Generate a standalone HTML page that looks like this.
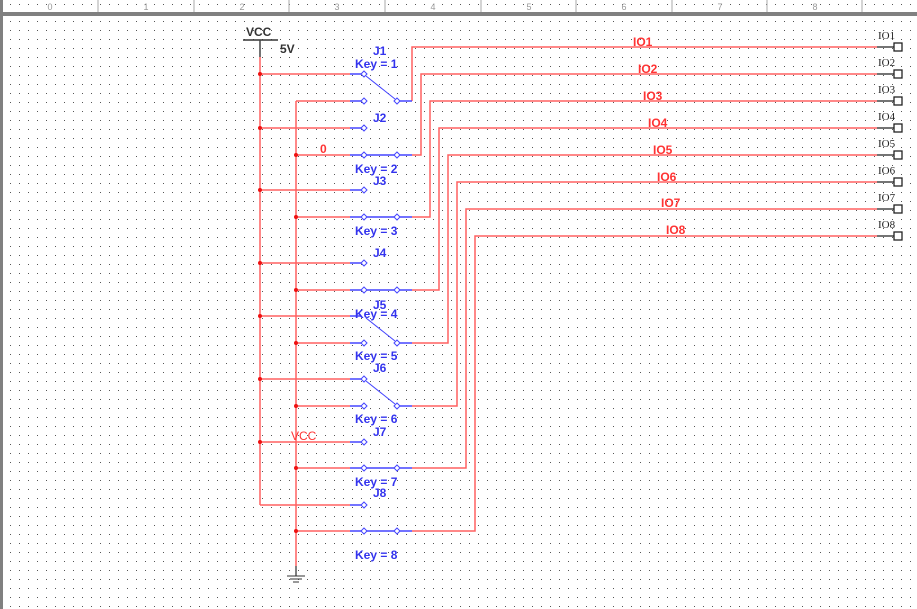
<!DOCTYPE html>
<html><head><meta charset="utf-8"><style>
html,body{margin:0;padding:0;background:#fff;}
svg{display:block;}
text{font-family:"Liberation Sans",sans-serif;}
</style></head><body>
<svg width="917" height="609" viewBox="0 0 917 609" xmlns="http://www.w3.org/2000/svg">
<defs>
<pattern id="dots" x="1" y="3" width="9" height="9" patternUnits="userSpaceOnUse">
<rect x="0" y="0" width="1" height="1" fill="#555"/>
</pattern>
<pattern id="rdots" x="1" y="0" width="9" height="9" patternUnits="userSpaceOnUse">
<rect x="0" y="4" width="1" height="1" fill="#555"/>
</pattern>
</defs>
<rect x="0" y="0" width="917" height="609" fill="#fff"/>
<rect x="0" y="16" width="917" height="593" fill="url(#dots)"/>
<rect x="0" y="0" width="917" height="12" fill="url(#rdots)"/>
<g stroke="#aaa" stroke-width="1">
<line x1="98" y1="0" x2="98" y2="12"/><line x1="194" y1="0" x2="194" y2="12"/><line x1="289" y1="0" x2="289" y2="12"/>
<line x1="385" y1="0" x2="385" y2="12"/><line x1="481" y1="0" x2="481" y2="12"/><line x1="576" y1="0" x2="576" y2="12"/>
<line x1="672" y1="0" x2="672" y2="12"/><line x1="767" y1="0" x2="767" y2="12"/><line x1="862" y1="0" x2="862" y2="12"/>
</g>
<g font-size="9" fill="#999" text-anchor="middle">
<text x="50" y="10">0</text><text x="146" y="10">1</text><text x="242" y="10">2</text><text x="337" y="10">3</text>
<text x="433" y="10">4</text><text x="529" y="10">5</text><text x="624" y="10">6</text><text x="720" y="10">7</text><text x="815" y="10">8</text>
</g>
<rect x="0" y="12" width="917" height="4" fill="#808080"/>
<rect x="0" y="0" width="3" height="609" fill="#808080"/>

<!-- VCC source -->
<line x1="243" y1="40" x2="278" y2="40" stroke="#333" stroke-width="1.5"/>
<line x1="260" y1="40" x2="260" y2="57" stroke="#444" stroke-width="1.5"/>
<text x="246" y="36" font-size="12" font-weight="bold" fill="#333">VCC</text>
<text x="280" y="53" font-size="12" font-weight="bold" fill="#333">5V</text>

<g stroke="#ff6060" stroke-width="1.5" fill="none">
<line x1="260" y1="57" x2="260" y2="505"/>
<line x1="296" y1="101" x2="296" y2="566"/>
<!-- VCC branches -->
<line x1="260" y1="74" x2="350" y2="74"/>
<line x1="260" y1="128" x2="350" y2="128"/>
<line x1="260" y1="190" x2="350" y2="190"/>
<line x1="260" y1="263" x2="350" y2="263"/>
<line x1="260" y1="316" x2="350" y2="316"/>
<line x1="260" y1="379" x2="350" y2="379"/>
<line x1="260" y1="442" x2="350" y2="442"/>
<line x1="260" y1="505" x2="350" y2="505"/>
<!-- GND branches -->
<line x1="296" y1="101" x2="350" y2="101"/>
<line x1="296" y1="155" x2="350" y2="155"/>
<line x1="296" y1="217" x2="350" y2="217"/>
<line x1="296" y1="290" x2="350" y2="290"/>
<line x1="296" y1="343" x2="350" y2="343"/>
<line x1="296" y1="406" x2="350" y2="406"/>
<line x1="296" y1="468" x2="350" y2="468"/>
<line x1="296" y1="531" x2="350" y2="531"/>
<!-- outputs -->
<polyline points="412,101 412,47 877,47"/>
<polyline points="412,155 421,155 421,74 877,74"/>
<polyline points="412,217 430,217 430,101 877,101"/>
<polyline points="412,290 439,290 439,128 877,128"/>
<polyline points="412,343 448,343 448,155 877,155"/>
<polyline points="412,406 457,406 457,182 877,182"/>
<polyline points="412,468 466,468 466,209 877,209"/>
<polyline points="412,531 475,531 475,236 877,236"/>
</g>
<g fill="#ee1111">
<circle cx="260" cy="74" r="2"/><circle cx="260" cy="128" r="2"/><circle cx="260" cy="190" r="2"/><circle cx="260" cy="263" r="2"/>
<circle cx="260" cy="316" r="2"/><circle cx="260" cy="379" r="2"/><circle cx="260" cy="442" r="2"/>
<circle cx="296" cy="155" r="2"/><circle cx="296" cy="217" r="2"/><circle cx="296" cy="290" r="2"/><circle cx="296" cy="343" r="2"/>
<circle cx="296" cy="406" r="2"/><circle cx="296" cy="468" r="2"/><circle cx="296" cy="531" r="2"/>
</g>
<!-- ground -->
<line x1="296" y1="566" x2="296" y2="576" stroke="#555" stroke-width="1.5"/>
<g stroke="#333" stroke-width="1"><line x1="287" y1="576" x2="305" y2="576"/><line x1="290" y1="579" x2="302" y2="579"/><line x1="293" y1="582" x2="299" y2="582"/></g>

<!-- switches -->
<g stroke="#4444ff" stroke-width="1.5" fill="#fff">
<!-- J1 SPDT -->
<line x1="350" y1="74" x2="361" y2="74"/><line x1="350" y1="101" x2="361" y2="101"/><line x1="400" y1="101" x2="412" y2="101"/>
<line x1="366" y1="76" x2="395" y2="99" stroke-width="1"/>
<!-- J2 -->
<line x1="350" y1="128" x2="361" y2="128"/><line x1="350" y1="155" x2="412" y2="155"/>
<!-- J3 -->
<line x1="350" y1="190" x2="361" y2="190"/><line x1="350" y1="217" x2="412" y2="217"/>
<!-- J4 -->
<line x1="350" y1="263" x2="361" y2="263"/><line x1="350" y1="290" x2="412" y2="290"/>
<!-- J5 -->
<line x1="350" y1="316" x2="361" y2="316"/><line x1="350" y1="343" x2="361" y2="343"/><line x1="400" y1="343" x2="412" y2="343"/>
<line x1="366" y1="318" x2="395" y2="341" stroke-width="1"/>
<!-- J6 -->
<line x1="350" y1="379" x2="361" y2="379"/><line x1="350" y1="406" x2="361" y2="406"/><line x1="400" y1="406" x2="412" y2="406"/>
<line x1="366" y1="381" x2="395" y2="404" stroke-width="1"/>
<!-- J7 -->
<line x1="350" y1="442" x2="361" y2="442"/><line x1="350" y1="468" x2="412" y2="468"/>
<!-- J8 -->
<line x1="350" y1="505" x2="361" y2="505"/><line x1="350" y1="531" x2="412" y2="531"/>
</g>
<g stroke="#4444ff" stroke-width="1" fill="#fff">
<path d="M364 71 l3 3 l-3 3 l-3 -3z"/><path d="M364 98 l3 3 l-3 3 l-3 -3z"/><path d="M397 98 l3 3 l-3 3 l-3 -3z"/>
<path d="M364 125 l3 3 l-3 3 l-3 -3z"/><path d="M364 152 l3 3 l-3 3 l-3 -3z"/><path d="M397 152 l3 3 l-3 3 l-3 -3z"/>
<path d="M364 187 l3 3 l-3 3 l-3 -3z"/><path d="M364 214 l3 3 l-3 3 l-3 -3z"/><path d="M397 214 l3 3 l-3 3 l-3 -3z"/>
<path d="M364 260 l3 3 l-3 3 l-3 -3z"/><path d="M364 287 l3 3 l-3 3 l-3 -3z"/><path d="M397 287 l3 3 l-3 3 l-3 -3z"/>
<path d="M364 340 l3 3 l-3 3 l-3 -3z"/><path d="M397 340 l3 3 l-3 3 l-3 -3z"/>
<path d="M364 376 l3 3 l-3 3 l-3 -3z"/><path d="M364 403 l3 3 l-3 3 l-3 -3z"/><path d="M397 403 l3 3 l-3 3 l-3 -3z"/>
<path d="M364 439 l3 3 l-3 3 l-3 -3z"/><path d="M364 465 l3 3 l-3 3 l-3 -3z"/><path d="M397 465 l3 3 l-3 3 l-3 -3z"/>
<path d="M364 502 l3 3 l-3 3 l-3 -3z"/><path d="M364 528 l3 3 l-3 3 l-3 -3z"/><path d="M397 528 l3 3 l-3 3 l-3 -3z"/>
</g>

<g font-size="12" font-weight="bold" fill="#3333ee">
<text x="373" y="55">J1</text><text x="355" y="68">Key = 1</text>
<text x="373" y="122">J2</text>
<text x="355" y="173">Key = 2</text><text x="373" y="185">J3</text>
<text x="355" y="235">Key = 3</text>
<text x="373" y="257">J4</text>
<text x="373" y="309">J5</text><text x="355" y="318">Key = 4</text>
<text x="355" y="360">Key = 5</text><text x="373" y="372">J6</text>
<text x="355" y="423">Key = 6</text><text x="373" y="436">J7</text>
<text x="355" y="486">Key = 7</text><text x="373" y="497">J8</text>
<text x="355" y="559">Key = 8</text>
</g>
<g font-size="12" font-weight="bold" fill="#ff3333">
<text x="320" y="153">0</text>
<text x="291" y="440" font-weight="normal">VCC</text>
<text x="633" y="46">IO1</text><text x="638" y="73">IO2</text><text x="643" y="100">IO3</text><text x="648" y="127">IO4</text>
<text x="653" y="154">IO5</text><text x="657" y="181">IO6</text><text x="661" y="207">IO7</text><text x="666" y="234">IO8</text>
</g>

<!-- connectors -->
<g stroke="#222" stroke-width="1.3" fill="#fff">
<line x1="877" y1="47" x2="894" y2="47"/><rect x="894" y1="0" y="43" width="8" height="8"/>
<line x1="877" y1="74" x2="894" y2="74"/><rect x="894" y="70" width="8" height="8"/>
<line x1="877" y1="101" x2="894" y2="101"/><rect x="894" y="97" width="8" height="8"/>
<line x1="877" y1="128" x2="894" y2="128"/><rect x="894" y="124" width="8" height="8"/>
<line x1="877" y1="155" x2="894" y2="155"/><rect x="894" y="151" width="8" height="8"/>
<line x1="877" y1="182" x2="894" y2="182"/><rect x="894" y="178" width="8" height="8"/>
<line x1="877" y1="209" x2="894" y2="209"/><rect x="894" y="205" width="8" height="8"/>
<line x1="877" y1="236" x2="894" y2="236"/><rect x="894" y="232" width="8" height="8"/>
</g>
<g font-family="Liberation Serif" font-size="11" fill="#222">
<text x="878" y="39" style="font-family:'Liberation Serif',serif">IO1</text>
<text x="878" y="66" style="font-family:'Liberation Serif',serif">IO2</text>
<text x="878" y="93" style="font-family:'Liberation Serif',serif">IO3</text>
<text x="878" y="120" style="font-family:'Liberation Serif',serif">IO4</text>
<text x="878" y="147" style="font-family:'Liberation Serif',serif">IO5</text>
<text x="878" y="174" style="font-family:'Liberation Serif',serif">IO6</text>
<text x="878" y="201" style="font-family:'Liberation Serif',serif">IO7</text>
<text x="878" y="228" style="font-family:'Liberation Serif',serif">IO8</text>
</g>
</svg>
</body></html>
